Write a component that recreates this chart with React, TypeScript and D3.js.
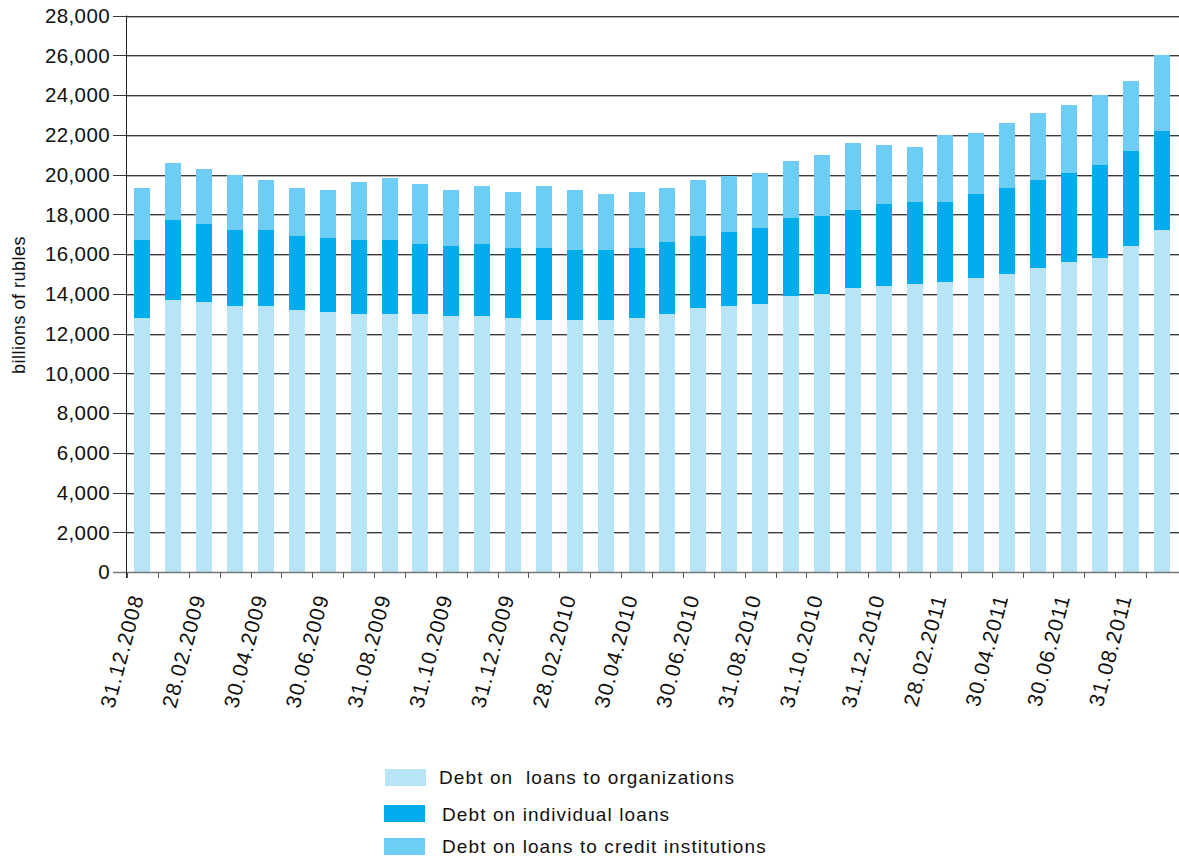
import React, { useEffect } from "react";
import * as d3 from "d3";

const dates = [
  "31.12.2008", "31.01.2009", "28.02.2009", "31.03.2009", "30.04.2009", "31.05.2009",
  "30.06.2009", "31.07.2009", "31.08.2009", "30.09.2009", "31.10.2009", "30.11.2009",
  "31.12.2009", "31.01.2010", "28.02.2010", "31.03.2010", "30.04.2010", "31.05.2010",
  "30.06.2010", "31.07.2010", "31.08.2010", "30.09.2010", "31.10.2010", "30.11.2010",
  "31.12.2010", "31.01.2011", "28.02.2011", "31.03.2011", "30.04.2011", "31.05.2011",
  "30.06.2011", "31.07.2011", "31.08.2011", "30.09.2011",
];

const organizations = [
  12800, 13700, 13600, 13400, 13400, 13200, 13100, 13000, 13000, 13000, 12900, 12900,
  12800, 12700, 12700, 12700, 12800, 13000, 13300, 13400, 13500, 13900, 14000, 14300,
  14400, 14500, 14600, 14800, 15000, 15300, 15600, 15800, 16400, 17200,
];

const individuals = [
  3900, 4000, 3900, 3800, 3800, 3700, 3700, 3700, 3700, 3500, 3500, 3600,
  3500, 3600, 3500, 3500, 3500, 3600, 3600, 3700, 3800, 3900, 3900, 3900,
  4100, 4100, 4000, 4200, 4300, 4400, 4500, 4700, 4800, 5000,
];

const creditInstitutions = [
  2600, 2900, 2800, 2800, 2500, 2400, 2400, 2900, 3100, 3000, 2800, 2900,
  2800, 3100, 3000, 2800, 2800, 2700, 2800, 2800, 2800, 2900, 3100, 3400,
  3000, 2800, 3400, 3100, 3300, 3400, 3400, 3500, 3500, 3800,
];

const yTicks = [0, 2000, 4000, 6000, 8000, 10000, 12000, 14000, 16000, 18000, 20000, 22000, 24000, 26000, 28000];

const seriesNames = [
  "Debt on\u00a0 loans to organizations",
  "Debt on individual loans",
  "Debt on loans to credit institutions",
];
const seriesKeys = ["org", "ind", "cred"];
const colors = ["#b8e4f8", "#00acec", "#6dcdf5"];

const FONT = "'Liberation Sans', Arial, Helvetica, sans-serif";

export default function App() {
  useEffect(() => {
    document.body.style.margin = "0";
    document.body.style.overflow = "hidden";
  }, []);

  const W = 1179;
  const H = 862;
  const left = 127;
  const right = 1177;
  const top = 15.5;
  const bottom = 572;

  const x = d3.scaleBand<string>().domain(dates).range([left, right]).paddingInner(0).paddingOuter(0);
  const y = d3.scaleLinear().domain([0, 28000]).range([bottom, top]);

  const table = dates.map((d, i) => ({
    date: d,
    org: organizations[i],
    ind: individuals[i],
    cred: creditInstitutions[i],
  }));
  const stacked = d3.stack<any>().keys(seriesKeys)(table);

  const barW = 16;
  const fmt = d3.format(",");

  return (
    <svg width={W} height={H} style={{ position: "absolute", left: 0, top: 0, background: "#fff" }} fontFamily={FONT}>
      {yTicks.map((t) => {
        const yy = Math.round(y(t)) + 0.5;
        return (
          <g key={"g" + t}>
            <line x1={113} x2={1179} y1={yy} y2={yy} stroke={t === 0 ? "#777" : "#3a3a3a"} strokeWidth={1} />
            {t !== 0 && <line x1={127} x2={1179} y1={yy + 1} y2={yy + 1} stroke="#b4b4b4" strokeWidth={1} />}
          </g>
        );
      })}
      {stacked.map((s, si) => (
        <g key={seriesKeys[si]} fill={colors[si]}>
          {s.map((d, i) => {
            const cx = (x(dates[i]) as number) + x.bandwidth() / 2;
            return (
              <rect
                key={i}
                x={cx - barW / 2}
                y={y(d[1])}
                width={barW}
                height={y(d[0]) - y(d[1])}
                shapeRendering="crispEdges"
              />
            );
          })}
        </g>
      ))}
      <line x1={113} x2={1179} y1={Math.round(y(0)) + 0.5} y2={Math.round(y(0)) + 0.5} stroke="#777" strokeWidth={1.5} />
      <line x1={left - 0.5} x2={left - 0.5} y1={top} y2={bottom + 6} stroke="#222" strokeWidth={1} />
      {yTicks.map((t) => (
        <text key={"yl" + t} x={110} y={y(t)} dy="0.36em" textAnchor="end" fontSize={20.5} letterSpacing={0.4} fill="#111">
          {fmt(t)}
        </text>
      ))}
      <text
        transform={`translate(25, ${305}) rotate(-90)`}
        textAnchor="middle"
        fontSize={18}
        letterSpacing={0.5}
        fill="#111"
      >
        billions of rubles
      </text>
      {dates.map((d, i) => {
        const xx = Math.round(x(d) as number) + 0.5;
        return <line key={"xt" + i} x1={xx} x2={xx} y1={bottom} y2={bottom + 6} stroke="#555" strokeWidth={1} />;
      })}
      {dates.map((d, i) => {
        if (i % 2 !== 0) return null;
        const cx = (x(d) as number) + x.bandwidth() / 2;
        return (
          <text
            key={"xl" + i}
            transform={`translate(${cx + 1.5}, 597) rotate(-75)`}
            textAnchor="end"
            fontSize={21}
            letterSpacing={1.1}
            fill="#111"
          >
            {d}
          </text>
        );
      })}
      {seriesNames.map((n, i) => {
        const sy = [769, 805, 838][i];
        const tx = [439, 442, 442][i];
        const ty = [784, 821, 853][i];
        return (
          <g key={"lg" + i}>
            <rect x={i === 0 ? 385 : 384} y={sy} width={41} height={17} fill={colors[i]} />
            <text x={tx} y={ty} fontSize={19} letterSpacing={1.1} fill="#111">
              {n}
            </text>
          </g>
        );
      })}
    </svg>
  );
}
